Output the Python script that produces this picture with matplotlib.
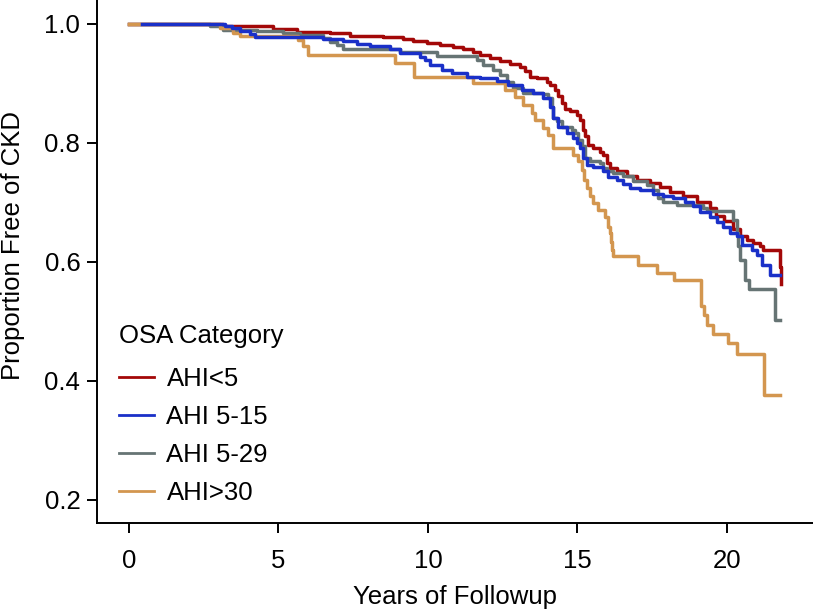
import matplotlib
matplotlib.use("Agg")
import matplotlib.pyplot as plt

plt.rcParams['font.family'] = ['Liberation Sans', 'DejaVu Sans']

# Kaplan-Meier curves (years, proportion free of CKD)
red_t = [0, 3.14, 4.82, 5.62, 6.72, 7.39, 8.49, 9.16, 9.50, 9.97, 10.40, 10.84,
         11.17, 11.50, 11.74, 12.07, 12.41, 12.74, 13.08, 13.24, 13.41, 13.65, 13.98, 14.08,
         14.25, 14.35, 14.48, 14.58, 14.75, 14.98, 15.08, 15.18, 15.25, 15.35, 15.52, 15.75,
         15.85, 15.99, 16.09, 16.32, 16.66, 16.99, 17.42, 17.76, 18.09, 18.53, 18.99, 19.43,
         19.62, 19.90, 20.20, 20.43, 20.67, 20.87, 21.10, 21.20, 21.77, 21.80, 21.82]
red_s = [1.0, .996, .991, .987, .984, .980, .977, .974, .971, .968, .965, .961,
         .957, .952, .948, .942, .938, .932, .928, .920, .911, .909, .903, .897,
         .888, .878, .867, .857, .853, .846, .839, .822, .811, .797, .791, .785,
         .780, .766, .757, .752, .745, .738, .732, .725, .718, .710, .701, .690,
         .677, .668, .655, .643, .637, .632, .626, .620, .592, .563, .563]

blue_t = [0.45, 3.21, 3.44, 3.71, 4.05, 4.21, 6.49, 7.16, 7.63, 8.06, 8.73, 9.06,
          9.73, 9.90, 10.07, 10.47, 10.80, 11.30, 11.74, 12.31, 12.68, 13.14, 13.51, 13.85,
          14.08, 14.18, 14.35, 14.65, 14.85, 14.98, 15.08, 15.18, 15.32, 15.52, 15.85, 16.02,
          16.32, 16.52, 16.76, 17.09, 17.53, 17.86, 18.19, 18.60, 18.86, 19.10, 19.43, 19.67,
          19.87, 20.10, 20.33, 20.50, 20.84, 21.00, 21.17, 21.44, 21.77]
blue_s = [1.0, .997, .993, .988, .983, .978, .975, .971, .966, .962, .957, .951,
          .945, .940, .931, .923, .918, .911, .909, .904, .897, .888, .884, .875,
          .861, .841, .827, .816, .808, .800, .791, .774, .763, .760, .752, .743,
          .738, .731, .724, .720, .714, .710, .707, .701, .693, .684, .676, .667,
          .659, .648, .643, .629, .620, .612, .595, .578, .578]

gray_t = [0, 2.71, 3.14, 3.61, 4.28, 5.15, 5.72, 6.49, 6.72, 6.96, 7.16, 9.06,
          10.30, 11.64, 11.84, 12.17, 12.41, 12.64, 12.84, 13.18, 13.85, 14.01, 14.15, 14.18,
          14.31, 14.48, 14.82, 14.92, 15.02, 15.15, 15.25, 15.42, 15.75, 15.85, 15.99, 16.19,
          16.52, 16.86, 17.32, 17.53, 17.69, 17.86, 18.33, 19.20, 19.33, 20.20, 20.33, 20.37,
          20.43, 20.60, 20.74, 21.61, 21.77]
gray_s = [1.0, .997, .990, .989, .988, .984, .981, .976, .970, .965, .957, .953,
          .946, .940, .931, .923, .914, .903, .892, .884, .882, .875, .861, .841,
          .836, .827, .822, .816, .805, .794, .774, .769, .766, .757, .752, .749,
          .745, .735, .729, .721, .707, .700, .696, .690, .685, .671, .648, .626,
          .603, .570, .554, .503, .503]

orange_t = [0, 3.04, 3.48, 3.71, 5.65, 5.82, 5.99, 8.90, 9.53, 11.50, 12.58, 12.91,
            13.18, 13.48, 13.58, 13.85, 14.01, 14.18, 14.85, 15.02, 15.15, 15.22, 15.32, 15.42,
            15.52, 15.69, 15.92, 16.02, 16.09, 16.12, 16.15, 16.19, 17.02, 17.66, 18.23, 19.13,
            19.23, 19.33, 19.53, 20.03, 20.33, 21.24, 21.77]
orange_s = [1.0, .993, .984, .980, .972, .962, .948, .934, .911, .901, .888, .877,
            .864, .850, .839, .825, .813, .791, .780, .769, .755, .738, .724, .710,
            .699, .687, .676, .659, .648, .634, .620, .609, .595, .582, .570, .525,
            .511, .494, .479, .463, .445, .376, .376]

labels = ["AHI<5", "AHI 5-15", "AHI 5-29", "AHI>30"]
colors = ["#a30808", "#1a30c8", "#667474", "#d3964f"]

FS = 18.5

fig = plt.figure(figsize=(8.13, 6.12), dpi=100)
ax = fig.add_axes([0.1193, 0.1454, 0.8807, 0.8546])

curves = {
    "AHI<5": (red_t, red_s),
    "AHI 5-15": (blue_t, blue_s),
    "AHI 5-29": (gray_t, gray_s),
    "AHI>30": (orange_t, orange_s),
}
zorders = {"AHI<5": 2, "AHI 5-29": 3, "AHI>30": 4, "AHI 5-15": 5}

for lbl, col in zip(labels, colors):
    t, s = curves[lbl]
    ax.step(t, s, where="post", color=col, lw=2.5, zorder=zorders[lbl])

# legend handles are thinner than the curves
handles = [plt.Line2D([], [], color=c, lw=2.0) for c in colors]
leg = ax.legend(handles, labels, title="OSA Category", loc="lower left",
                bbox_to_anchor=(0.031, 0.035), frameon=False, fontsize=FS,
                title_fontsize=FS, handlelength=1.37, handletextpad=0.47,
                labelspacing=0.545, borderpad=0, borderaxespad=0, alignment="left")
leg._legend_box.sep += 3.5  # a bit more room under the title

ax.set_xlim(-1.07, 22.88)
ax.set_ylim(0.161, 1.040)
ax.set_xticks([0, 5, 10, 15, 20])
ax.set_yticks([0.2, 0.4, 0.6, 0.8, 1.0])
ax.set_yticklabels(["0.2", "0.4", "0.6", "0.8", "1.0"])

for side in ["top", "right"]:
    ax.spines[side].set_visible(False)
for side in ["left", "bottom"]:
    ax.spines[side].set_linewidth(1.4)

ax.tick_params(axis="both", direction="out", length=7.5, width=1.4, labelsize=FS)
ax.tick_params(axis="x", pad=11.5)
ax.tick_params(axis="y", pad=4.5)

ax.set_xlabel("Years of Followup", fontsize=FS)
ax.set_ylabel("Proportion Free of CKD", fontsize=FS)
ax.xaxis.set_label_coords(0.5, -0.118)
ax.yaxis.set_label_coords(-0.1006, 0.53)

fig.savefig("out.png", dpi=100)
